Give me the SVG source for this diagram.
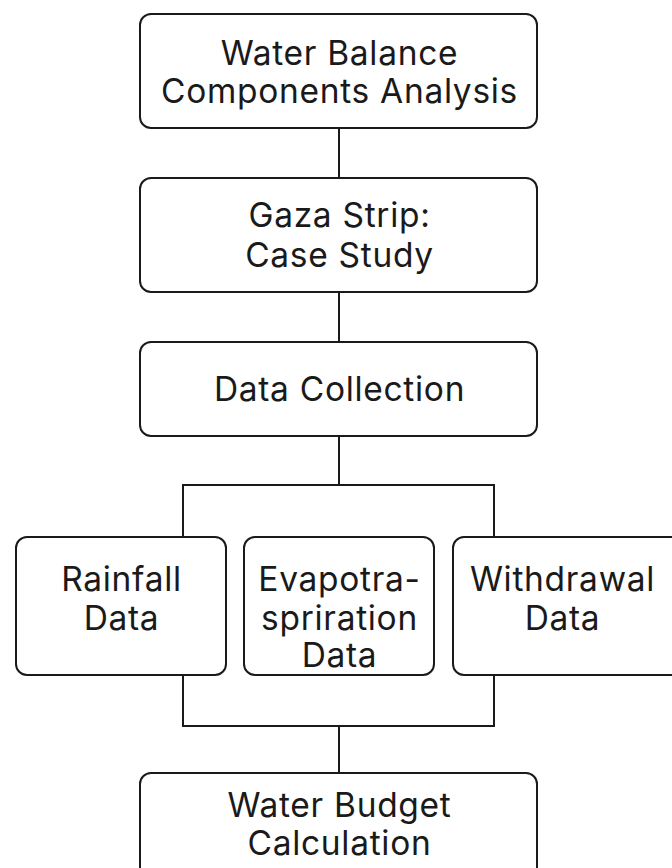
<svg xmlns="http://www.w3.org/2000/svg" width="672" height="868" viewBox="0 0 672 868">
<style>
.box{fill:#fff;stroke:#1a1a1a;stroke-width:2}
.lbl{font-family:Inter,"Liberation Sans",sans-serif;font-size:33.5px;letter-spacing:0.7px;fill:#1a1a1a;text-anchor:middle}
.con{fill:none;stroke:#1a1a1a;stroke-width:2}
</style>
<rect width="672" height="868" fill="#fff"/>
<g id="connectors">
<line class="con" x1="339" y1="128" x2="339" y2="178"/>
<line class="con" x1="339" y1="292" x2="339" y2="342"/>
<line class="con" x1="339" y1="436" x2="339" y2="485"/>
<polyline class="con" points="183,537 183,485 494,485 494,537"/>
<polyline class="con" points="183,675 183,726 494,726 494,675"/>
<line class="con" x1="339" y1="726" x2="339" y2="773"/>
</g>
<g id="n1">
<rect class="box" x="140" y="14" width="397" height="114" rx="11"/>
<text class="lbl" x="339.5" y="65">Water Balance</text>
<text class="lbl" x="339.5" y="103">Components Analysis</text>
</g>
<g id="n2">
<rect class="box" x="140" y="178" width="397" height="114" rx="11"/>
<text class="lbl" x="339.5" y="227">Gaza Strip:</text>
<text class="lbl" x="339.5" y="267">Case Study</text>
</g>
<g id="n3">
<rect class="box" x="140" y="342" width="397" height="94" rx="11"/>
<text class="lbl" x="339.5" y="401">Data Collection</text>
</g>
<g id="n4">
<rect class="box" x="16" y="537" width="210" height="138" rx="11"/>
<text class="lbl" x="121.5" y="591">Rainfall</text>
<text class="lbl" x="121.5" y="630">Data</text>
</g>
<g id="n5">
<rect class="box" x="244" y="537" width="190" height="138" rx="11"/>
<text class="lbl" x="339.5" y="591">Evapotra-</text>
<text class="lbl" x="339.5" y="630">spriration</text>
<text class="lbl" x="339.5" y="667">Data</text>
</g>
<g id="n6">
<rect class="box" x="453" y="537" width="240" height="138" rx="11"/>
<text class="lbl" x="562.5" y="591">Withdrawal</text>
<text class="lbl" x="562.5" y="630">Data</text>
</g>
<g id="n7">
<rect class="box" x="140" y="773" width="397" height="120" rx="11"/>
<text class="lbl" x="339.5" y="817">Water Budget</text>
<text class="lbl" x="339.5" y="855">Calculation</text>
</g>
</svg>
